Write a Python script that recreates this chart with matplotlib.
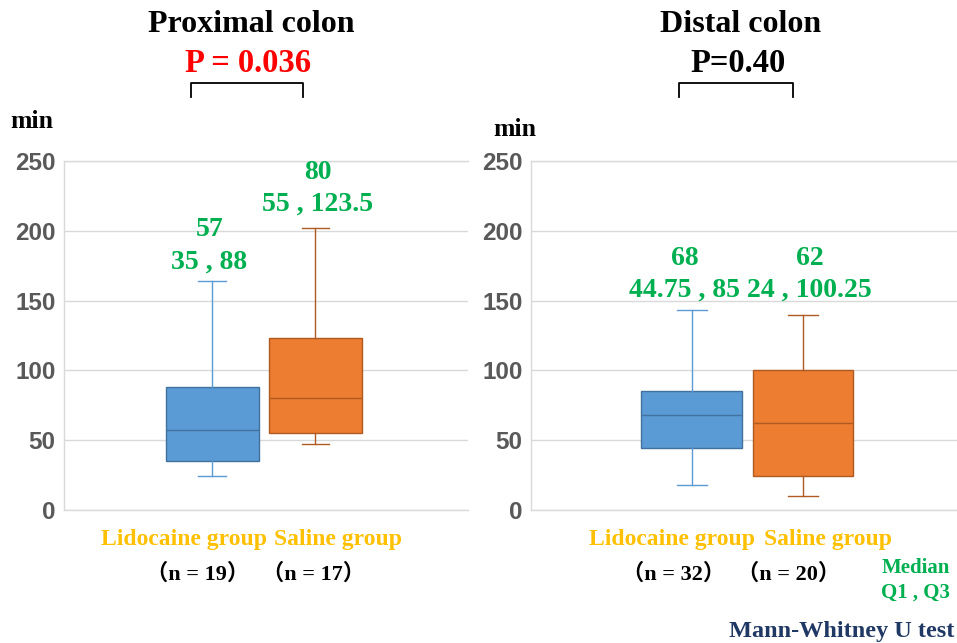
import matplotlib
matplotlib.use("Agg")
import matplotlib.pyplot as plt
from matplotlib.lines import Line2D

# ---- data ----
groups = ["Lidocaine group", "Saline group"]
panels = ["Proximal colon", "Distal colon"]
p_texts = ["P = 0.036", "P=0.40"]
n_labels = [["（n = 19）", "（n = 17）"], ["（n = 32）", "（n = 20）"]]

prox_whislo = [24, 47]
prox_q1 = [35, 55]
prox_med = [57, 80]
prox_q3 = [88, 123.5]
prox_whishi = [164, 202]

dist_whislo = [18, 10]
dist_q1 = [44.75, 24]
dist_med = [68, 62]
dist_q3 = [85, 100.25]
dist_whishi = [143, 140]

yticks = [0, 50, 100, 150, 200, 250]

FACE = ["#5B9BD5", "#ED7D31"]
EDGE = ["#41719C", "#AE5A21"]
GREEN = "#00B050"
GOLD = "#FFC000"
GRID = "#D9D9D9"
SERIF = ["Liberation Serif", "Noto Sans CJK SC"]

W, H = 957, 643
fig = plt.figure(figsize=(W / 100, H / 100), dpi=100)


def fx(px):
    return px / W


def fy(py):
    return 1 - py / H


axes_px = [(64, 468), (531, 957)]
xlims = [(-0.44, 3.48), (-0.44, 3.38)]
stats_all = [
    (prox_whislo, prox_q1, prox_med, prox_q3, prox_whishi),
    (dist_whislo, dist_q1, dist_med, dist_q3, dist_whishi),
]
# green median / quartile labels: (y of median text, y of quartile text) in data units
green_y = [[(201, 177.5), (242, 219)], [(180.5, 157.5), (180.5, 157.5)]]
green_dx = [[-0.03, 0.02], [-0.06, 0.06]]

for k in range(2):
    x0, x1 = axes_px[k]
    ax = fig.add_axes([fx(x0), fy(510), fx(x1 - x0), (510 - 161) / H])
    wlo, q1, med, q3, whi = stats_all[k]
    for i in range(2):
        st = [dict(med=med[i], q1=q1[i], q3=q3[i], whislo=wlo[i], whishi=whi[i],
                   fliers=[], label=groups[i])]
        ax.bxp(st, positions=[i + 1], widths=0.9, patch_artist=True,
               showfliers=False,
               boxprops=dict(facecolor=FACE[i], edgecolor=EDGE[i], linewidth=1.0),
               medianprops=dict(color=EDGE[i], linewidth=1.0),
               whiskerprops=dict(color=FACE[i] if i == 0 else EDGE[i], linewidth=1.0),
               capprops=dict(color=FACE[i] if i == 0 else EDGE[i], linewidth=1.0),
               capwidths=0.27)
        ym, yq = green_y[k][i]
        ax.text(i + 1 + green_dx[k][i], ym, f"{med[i]:g}", ha="center", va="center",
                color=GREEN, fontsize=20, fontweight="bold", family=SERIF)
        ax.text(i + 1 + green_dx[k][i], yq, f"{q1[i]:g} , {q3[i]:g}", ha="center",
                va="center", color=GREEN, fontsize=20, fontweight="bold", family=SERIF)

    ax.set_xlim(*xlims[k])
    ax.set_ylim(0, 250)
    ax.set_yticks(yticks)
    ax.set_xticks([])
    ax.yaxis.grid(True, color=GRID, linewidth=1.0)
    ax.set_axisbelow(True)
    for s in ["top", "bottom", "left"]:
        ax.spines[s].set_color(GRID)
        ax.spines[s].set_linewidth(1.0)
    ax.spines["right"].set_visible(False)
    ax.tick_params(axis="y", length=0, pad=6, labelsize=17.5, labelcolor="#595959")
    for t in ax.get_yticklabels():
        t.set_fontweight("bold")
        t.set_family("Liberation Sans")

# ---- text outside the axes ----
title_x = [251, 741]
p_x = [248, 738]
p_col = ["#FF0000", "black"]
bracket = [(191, 303), (679, 793)]
min_xy = [(10, 121), (493, 129)]
grp_x = [(184, 338), (672, 828)]
n_x = [(198, 313), (674, 789)]

for k in range(2):
    fig.text(fx(title_x[k]), fy(25), panels[k], ha="center", va="center",
             fontsize=23, fontweight="bold", family=SERIF)
    fig.text(fx(p_x[k]), fy(63), p_texts[k], ha="center", va="center",
             fontsize=23.5, fontweight="bold", family=SERIF, color=p_col[k])
    bx0, bx1 = bracket[k]
    fig.add_artist(Line2D([fx(bx0), fx(bx0), fx(bx1), fx(bx1)],
                          [fy(97), fy(83), fy(83), fy(97)],
                          color="black", linewidth=1.3, transform=fig.transFigure))
    fig.text(fx(min_xy[k][0]), fy(min_xy[k][1]), "min", ha="left", va="center",
             fontsize=18.5, fontweight="bold", family=SERIF)
    for i in range(2):
        fig.text(fx(grp_x[k][i]), fy(539), groups[i], ha="center", va="center",
                 fontsize=17, fontweight="bold", family=SERIF, color=GOLD)
        fig.text(fx(n_x[k][i]), fy(574), n_labels[k][i], ha="center", va="center",
                 fontsize=16, fontweight="bold", family=SERIF)

fig.text(fx(950), fy(568), "Median", ha="right", va="center",
         fontsize=15, fontweight="bold", family=SERIF, color=GREEN)
fig.text(fx(950), fy(593), "Q1 , Q3", ha="right", va="center",
         fontsize=15, fontweight="bold", family=SERIF, color=GREEN)
fig.text(fx(954), fy(632), "Mann-Whitney U test", ha="right", va="center",
         fontsize=17.5, fontweight="bold", family=SERIF, color="#1F3864")

fig.savefig("out.png", dpi=100)
